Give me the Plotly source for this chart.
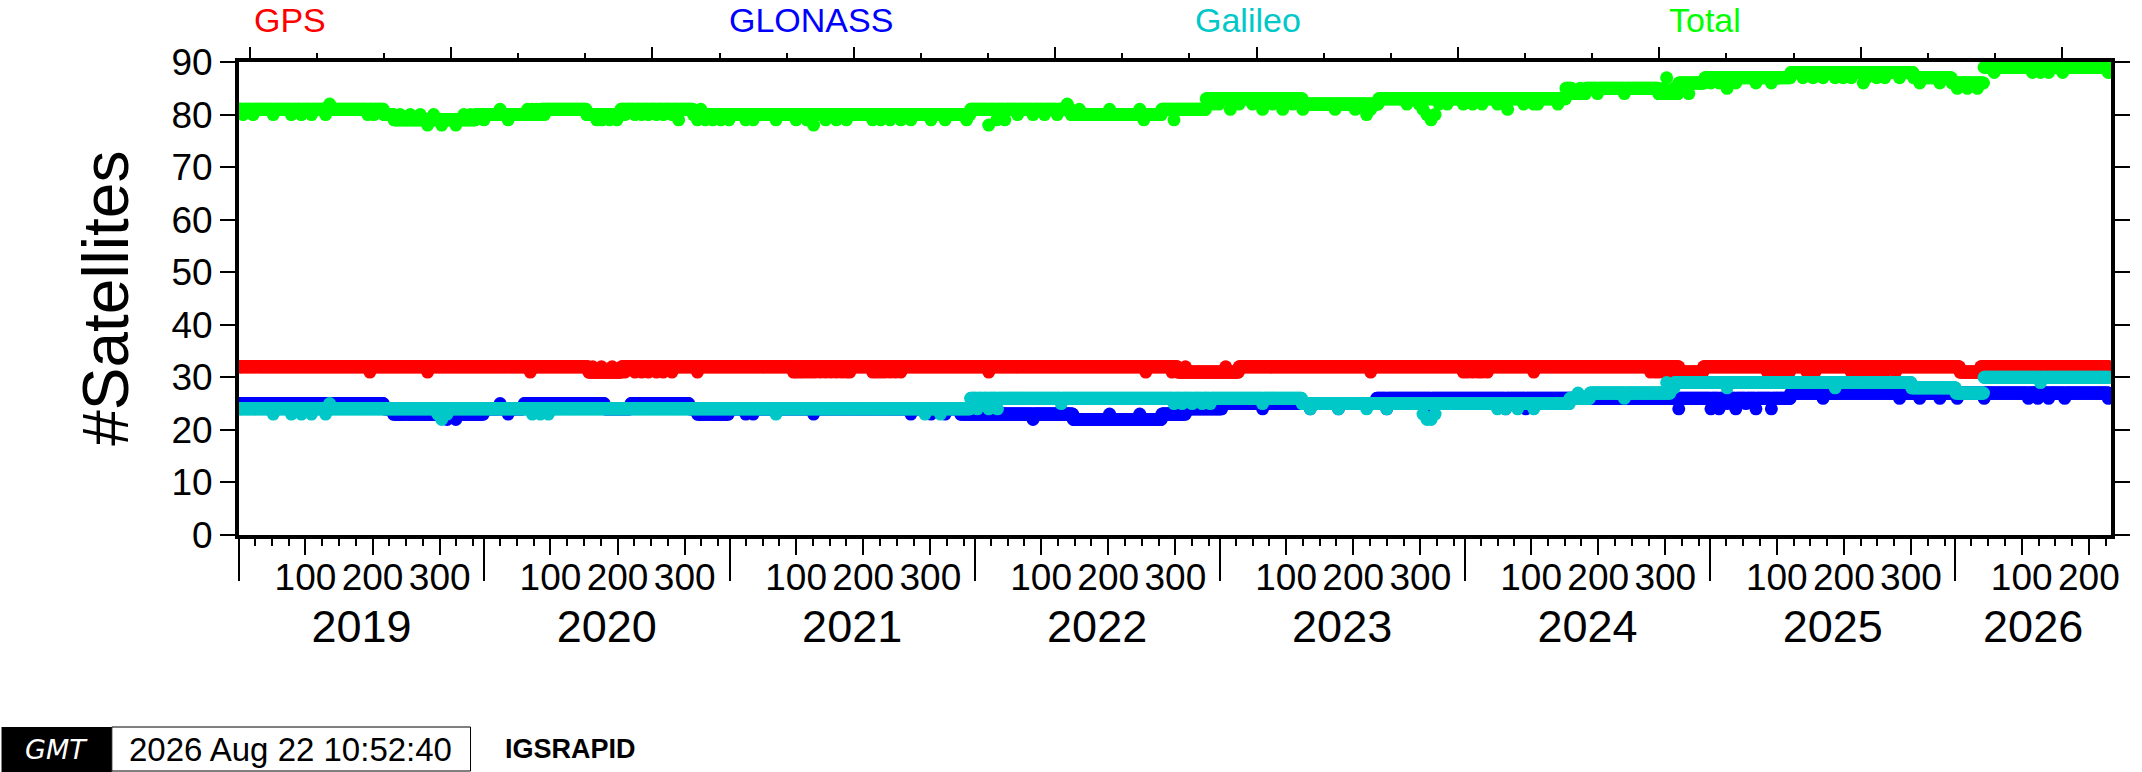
import numpy as np
import pandas as pd
import plotly.graph_objects as go

# ---------------- data ----------------
# day index = days since 2019-01-01; each series = step runs + single-day deviations
START = pd.Timestamp("2019-01-01")
AXIS_END = pd.Timestamp("2026-08-21")
LAST_DAY = 2786

gps_run_days = [0, 521, 570, 1399, 1490, 2146, 2182, 2564, 2595]
gps_run_vals = [32, 31, 32, 31, 32, 31, 32, 31, 32]
gps_dev_days = [195, 281, 434, 527, 540, 556, 575, 590, 600, 610, 622, 632, 645, 683,
                826, 830, 835, 840, 846, 852, 858, 866, 874, 882, 890, 898, 905, 910,
                944, 950, 956, 962, 970, 978, 986, 1117, 1351, 1390, 1410, 1470, 1686,
                1824, 1830, 1838, 1846, 1852, 1860, 1929, 2103, 2110, 2116, 2123, 2130,
                2138, 2277, 2285, 2293, 2302, 2310, 2336, 2348, 2402, 2412, 2425, 2440,
                2452, 2468]
gps_dev_vals = [31, 31, 31, 32, 32, 32, 31, 31, 31, 31, 31, 31, 31, 31,
                31, 31, 31, 31, 31, 31, 31, 31, 31, 31, 31, 31, 31, 31,
                31, 31, 31, 31, 31, 31, 31, 31, 31, 31, 32, 32, 31,
                31, 31, 31, 31, 31, 31, 31, 31, 31, 31, 31, 31,
                31, 31, 31, 31, 31, 31, 31, 31, 31, 31, 31, 31,
                31, 31]

glo_run_days = [0, 216, 230, 365, 425, 545, 584, 671, 683, 730, 1075, 1243, 1375, 1411, 1465, 1695, 2312]
glo_run_vals = [25, 24, 23, 24, 25, 24, 25, 24, 23, 24, 23, 22, 23, 24, 25, 26, 27]
glo_dev_days = [250, 290, 310, 323, 389, 401, 700, 715, 755, 766, 856, 1001, 1031, 1052,
                1183, 1297, 1342, 1453, 1525, 1596, 1638, 1710, 1776, 1887, 1917, 2145,
                2193, 2205, 2217, 2230, 2245, 2260, 2283, 2360, 2474, 2504, 2534, 2560,
                2600, 2666, 2680, 2696, 2720, 2785]
glo_dev_vals = [24, 24, 22, 22, 25, 23, 24, 24, 23, 23, 23, 23, 23, 23,
                22, 23, 23, 24, 24, 24, 24, 24, 24, 24, 24, 24,
                24, 24, 25, 24, 25, 24, 24, 26, 26, 26, 26, 26,
                26, 26, 26, 26, 26, 26]

gal_run_days = [0, 1090, 1584, 1983, 2013, 2133, 2139, 2492, 2558, 2600]
gal_run_vals = [24, 26, 25, 26, 27, 28, 29, 28, 27, 30]
gal_dev_days = [51, 78, 93, 108, 129, 135, 296, 302, 310, 437, 449, 461, 800, 1022, 1045,
                1100, 1108, 1117, 1130, 1225, 1393, 1405, 1420, 1435, 1447, 1525, 1596,
                1638, 1680, 1710, 1764, 1770, 1776, 1782, 1875, 1887, 1905, 1929, 1995,
                2064, 2127, 2217, 2378, 2684]
gal_dev_vals = [23, 23, 23, 23, 23, 25, 23, 22, 23, 23, 23, 23, 23, 23, 23,
                24, 25, 24, 24, 25, 25, 25, 25, 25, 25, 25, 24,
                24, 24, 24, 23, 22, 22, 23, 24, 24, 24, 24, 27,
                26, 29, 28, 28, 29]

tot_run_days = [0, 216, 231, 353, 449, 518, 569, 677, 1090, 1240, 1375, 1441, 1585, 1698,
                1977, 1986, 2007, 2115, 2145, 2184, 2312, 2495, 2552, 2600]
tot_run_vals = [81, 80, 79, 80, 81, 80, 81, 80, 81, 80, 81, 83, 82, 83,
                85, 84, 85, 84, 86, 87, 88, 87, 86, 89]
tot_dev_days = [6, 21, 51, 78, 93, 108, 129, 135, 192, 201, 240, 255, 270, 281, 290, 302,
                323, 335, 345, 365, 389, 401, 430, 437, 443, 449, 455, 533, 541, 552, 563,
                575, 590, 600, 610, 622, 632, 645, 655, 683, 688, 695, 706, 718, 730, 755,
                766, 800, 830, 846, 856, 874, 890, 905, 944, 956, 970, 986, 1001, 1031,
                1052, 1084, 1117, 1129, 1141, 1160, 1183, 1200, 1219, 1234, 1252, 1297,
                1342, 1348, 1393, 1453, 1460, 1477, 1490, 1510, 1525, 1540, 1555, 1570,
                1585, 1633, 1663, 1680, 1686, 1740, 1758, 1764, 1770, 1776, 1782, 1788,
                1800, 1824, 1838, 1852, 1875, 1887, 1890, 1914, 1929, 1935, 1965, 1998,
                2024, 2064, 2123, 2127, 2138, 2160, 2193, 2205, 2217, 2230, 2260, 2283,
                2330, 2345, 2360, 2378, 2390, 2402, 2420, 2425, 2440, 2452, 2474, 2504,
                2534, 2560, 2575, 2590, 2615, 2672, 2684, 2696, 2717, 2785]
tot_dev_vals = [80, 80, 80, 80, 80, 80, 80, 82, 80, 80, 80, 80, 80, 78, 80, 78,
                78, 80, 80, 79, 81, 79, 81, 81, 81, 80, 80, 79, 79, 79, 79,
                80, 80, 80, 80, 80, 80, 80, 79, 79, 81, 79, 79, 79, 79, 79,
                79, 79, 79, 79, 78, 79, 79, 79, 79, 79, 79, 79, 79, 79,
                79, 79, 78, 79, 79, 80, 80, 80, 80, 82, 81, 81,
                81, 79, 79, 82, 82, 81, 82, 82, 81, 82, 81, 82,
                81, 81, 81, 80, 81, 82, 82, 81, 80, 79, 80, 82,
                82, 82, 82, 82, 82, 82, 81, 82, 82, 82, 82, 85,
                84, 84, 85, 87, 85, 84, 86, 86, 85, 86, 86, 86,
                87, 87, 87, 87, 87, 87, 86, 87, 87, 87, 87, 86,
                86, 85, 85, 85, 88, 88, 88, 88, 88, 88]

series_names = ["GPS", "GLONASS", "Galileo", "Total"]
series_colors = ["#ff0000", "#0000ff", "#00c8c8", "#00ff00"]
year_labels = ["2019", "2020", "2021", "2022", "2023", "2024", "2025", "2026"]
doy_labels = ["100", "200", "300"]
doy_minor = [25, 50, 75, 125, 150, 175, 225, 250, 275, 325, 350]
y_ticks = [0, 10, 20, 30, 40, 50, 60, 70, 80, 90]
stamp_text = "2026 Aug 22 10:52:40"
source_text = "IGSRAPID"


def decode(run_days, run_vals, dev_days, dev_vals):
    days = np.arange(0, LAST_DAY + 1)
    idx = np.searchsorted(run_days, days, side="right") - 1
    vals = np.asarray(run_vals, dtype=float)[idx]
    vals[np.asarray(dev_days)] = dev_vals
    return START + pd.to_timedelta(days, unit="D"), vals


data = {
    "GPS": decode(gps_run_days, gps_run_vals, gps_dev_days, gps_dev_vals),
    "GLONASS": decode(glo_run_days, glo_run_vals, glo_dev_days, glo_dev_vals),
    "Galileo": decode(gal_run_days, gal_run_vals, gal_dev_days, gal_dev_vals),
    "Total": decode(tot_run_days, tot_run_vals, tot_dev_days, tot_dev_vals),
}

FONT = "Liberation Sans, Arial, Helvetica, sans-serif"
W, H = 2142, 772
L, R, T, B = 239, 19, 62, 237
PW, PH = W - L - R, H - T - B


def px(xp):
    return (xp - L) / PW


def py(yp):
    return (H - B - yp) / PH


fig = go.Figure()
for name, col in zip(series_names, series_colors):
    x, y = data[name]
    fig.add_trace(go.Scatter(x=x, y=y, mode="markers", name=name,
                             marker=dict(size=13, color=col, line=dict(width=0)),
                             showlegend=False, hoverinfo="skip"))

# empty traces so that the overlay axes (extra tick rows) get drawn
for ax in ["x2", "x3", "x4", "x5"]:
    fig.add_trace(go.Scatter(x=[START, AXIS_END], y=[None, None], xaxis=ax, yaxis="y",
                             mode="lines", showlegend=False, hoverinfo="skip"))

# tick positions (axis furniture)
years = [int(s) for s in year_labels]
yr_start = [pd.Timestamp(f"{yy}-01-01") for yy in years]
doy_major_dates, doy_major_text = [], []
for yy in years:
    for d in doy_labels:
        dt = pd.Timestamp(f"{yy}-01-01") + pd.Timedelta(days=int(d) - 1)
        if dt <= AXIS_END:
            doy_major_dates.append(dt)
            doy_major_text.append(d)
doy_minor_dates = [pd.Timestamp(f"{yy}-01-01") + pd.Timedelta(days=d - 1)
                   for yy in years for d in doy_minor]
doy_minor_dates = [d for d in doy_minor_dates if d <= AXIS_END]
year_mid = []
for yy in years:
    a = max(pd.Timestamp(f"{yy}-01-01"), START)
    b = min(pd.Timestamp(f"{yy + 1}-01-01"), AXIS_END)
    year_mid.append(a + (b - a) / 2)
mjd0 = pd.Timestamp("1858-11-17")
mjd_minor = [mjd0 + pd.Timedelta(days=m) for m in range(58500, 61500, 100)]
mjd_minor = [d for d in mjd_minor if START <= d <= AXIS_END]
mjd_major = [mjd0 + pd.Timedelta(days=m) for m in range(58500, 61500, 300)]
mjd_major = [d for d in mjd_major if START <= d <= AXIS_END]

rng = [START, AXIS_END]
common = dict(type="date", range=rng, showgrid=False, zeroline=False, fixedrange=True)
fig.update_layout(
    xaxis=dict(**common, showline=True, linewidth=4, linecolor="black", mirror=True,
               ticks="outside", tickmode="array", tickvals=doy_major_dates, ticklen=16,
               tickwidth=2, tickcolor="black", showticklabels=False,
               minor=dict(tickmode="array", tickvals=doy_minor_dates, ticks="outside",
                          ticklen=7, tickwidth=2, tickcolor="black")),
    xaxis2=dict(**common, overlaying="x", anchor="y", side="bottom", ticks="outside",
                tickmode="array", tickvals=yr_start, ticklen=45, tickwidth=2,
                tickcolor="black", showticklabels=False, showline=False),
    xaxis3=dict(**common, overlaying="x", anchor="y", side="bottom", ticks="outside",
                tickmode="array", tickvals=doy_major_dates, ticktext=doy_major_text,
                ticklen=10, tickcolor="rgba(0,0,0,0)", showline=False,
                tickfont=dict(family=FONT, size=37, color="black")),
    xaxis4=dict(**common, overlaying="x", anchor="y", side="bottom", ticks="outside",
                tickmode="array", tickvals=year_mid, ticktext=year_labels,
                ticklen=52, tickcolor="rgba(0,0,0,0)", showline=False,
                tickfont=dict(family=FONT, size=45, color="black")),
    xaxis5=dict(**common, overlaying="x", anchor="y", side="top", ticks="outside",
                tickmode="array", tickvals=mjd_major, ticklen=14, tickwidth=2,
                tickcolor="black", showticklabels=False, showline=False,
                minor=dict(tickmode="array", tickvals=mjd_minor, ticks="outside",
                           ticklen=8, tickwidth=2, tickcolor="black")),
    yaxis=dict(range=[0, 90], tickmode="array", tickvals=y_ticks, ticks="outside",
               ticklen=15, tickwidth=2, tickcolor="black", showline=True, linewidth=4,
               linecolor="black", mirror="ticks", showgrid=False, zeroline=False,
               fixedrange=True, tickfont=dict(family=FONT, size=37, color="black")),
    width=W, height=H, margin=dict(l=L, r=R, t=T, b=B, pad=0),
    paper_bgcolor="white", plot_bgcolor="white", font=dict(family=FONT),
    showlegend=False,
)

# series labels along the top
label_x = [290, 815, 1254, 1714]
for name, col, xp in zip(series_names, series_colors, label_x):
    fig.add_annotation(text=name, xref="paper", yref="paper", x=px(xp), y=py(20),
                       xanchor="center", yanchor="middle", showarrow=False,
                       font=dict(family=FONT, size=34, color=col))

fig.add_annotation(text="#Satellites", xref="paper", yref="paper", x=px(105), y=py(298),
                   xanchor="center", yanchor="middle", textangle=-90, showarrow=False,
                   font=dict(family=FONT, size=64, color="black"))

# GMT time stamp
fig.add_shape(type="rect", xref="paper", yref="paper", x0=px(0), x1=px(111),
              y0=py(727), y1=py(772), fillcolor="black", line=dict(width=0))
fig.add_shape(type="rect", xref="paper", yref="paper", x0=px(111), x1=px(472),
              y0=py(727), y1=py(771), fillcolor="white", line=dict(color="black", width=1))
fig.add_annotation(text="<i>GMT</i>", xref="paper", yref="paper", x=px(55), y=py(749),
                   xanchor="center", yanchor="middle", showarrow=False,
                   font=dict(family="DejaVu Sans", size=27, color="white"))
fig.add_annotation(text=stamp_text, xref="paper", yref="paper", x=px(291), y=py(749),
                   xanchor="center", yanchor="middle", showarrow=False,
                   font=dict(family=FONT, size=33, color="black"))
fig.add_annotation(text="<b>" + source_text + "</b>", xref="paper", yref="paper",
                   x=px(505), y=py(749), xanchor="left", yanchor="middle", showarrow=False,
                   font=dict(family=FONT, size=27, color="black"))

fig.write_html("out.html", config={"displayModeBar": False},
               post_script="document.body.style.margin='0px';")
